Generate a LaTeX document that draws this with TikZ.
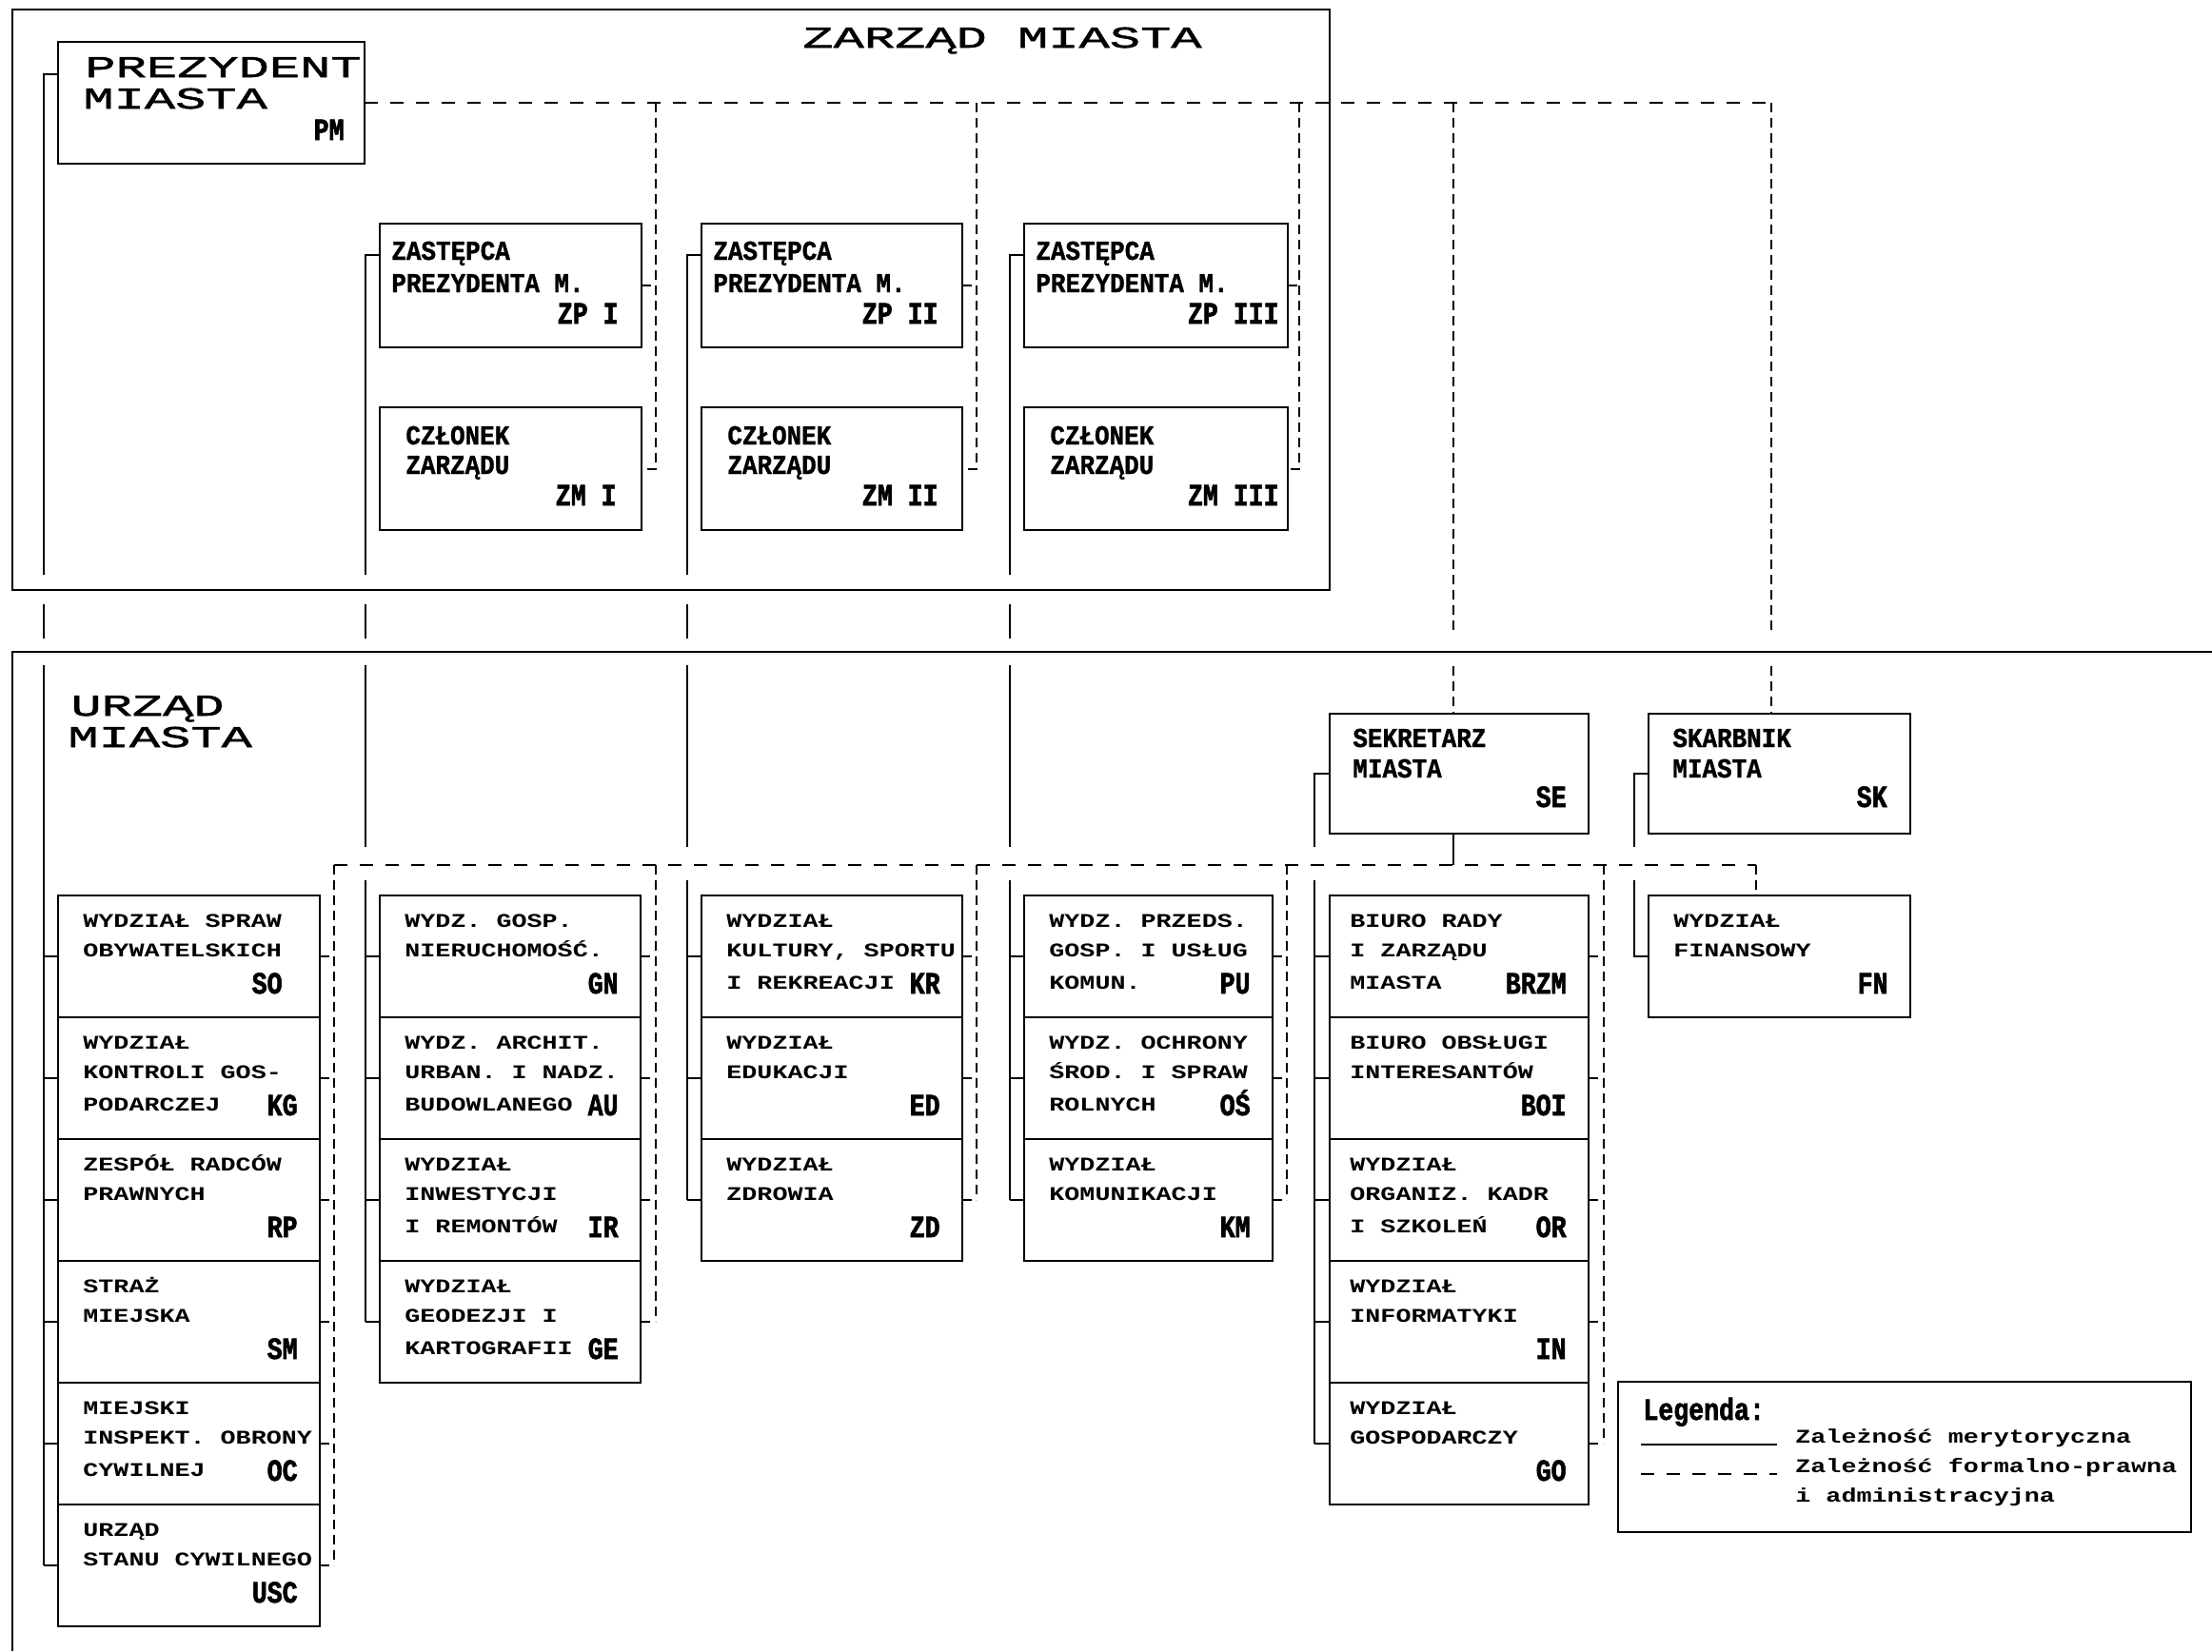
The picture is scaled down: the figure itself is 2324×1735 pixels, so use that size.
\documentclass[tikz,border=0pt]{standalone}
\usepackage{fontspec}
\usetikzlibrary{calc}
\newfontfamily\ttlfont{Liberation Mono}[FakeStretch=1.69,FakeBold=1.6]
\newfontfamily\depfont{Liberation Mono}[FakeStretch=1.31]
\newfontfamily\labfont{Liberation Mono}[FakeStretch=0.9,FakeBold=1.2]
\newfontfamily\codefont{Liberation Mono}[FakeStretch=0.82,FakeBold=1.8]
\tikzset{
  box/.style={draw, line width=1.2pt, inner sep=0pt, outer sep=0pt, anchor=north west},
  dtxt/.style={anchor=base west, inner sep=0pt, font=\depfont\bfseries\fontsize{10.2pt}{12pt}\selectfont},
  dcode/.style={anchor=base east, inner sep=0pt, font=\codefont\bfseries\fontsize{16.2pt}{19pt}\selectfont},
  ltxt/.style={anchor=base west, inner sep=0pt, font=\labfont\bfseries\fontsize{14.4pt}{17pt}\selectfont},
  ttl/.style={anchor=base west, inner sep=0pt, font=\ttlfont\fontsize{15.9pt}{19pt}\selectfont},
  sol/.style={line width=1pt},
  vdsh/.style={line width=1pt, dash pattern=on 5pt off 3pt},
  hdsh/.style={line width=1pt, dash pattern=on 7pt off 6.5pt},
  frame/.style={line width=1.4pt},
  gapline/.style={white, line width=4pt},
}
\newcommand\deptbox[8]{%
  \node[box, minimum width=#4, minimum height=64pt] (#1) at (#2,#3) {};
  \node[dtxt] (#1-a) at ($(#1.north west)+(\dins,33)$) {#5};
  \node[dtxt] (#1-b) at ($(#1.north west)+(\dins,64)$) {#6};
  \if\relax\detokenize{#7}\relax\else
  \node[dtxt] (#1-c) at ($(#1.north west)+(\dins,98)$) {#7};\fi
  \node[dcode] (#1-k) at ($(#1.north east)+(-\dcoff,103)$) {#8};
}
\newcommand\topbox[9]{%
  \node[box, minimum width=#4, minimum height=#5] (#1) at (#2,#3) {};
  \node[ltxt] (#1-a) at ($(#1.north west)+(#6,\la)$) {#7};
  \node[ltxt] (#1-b) at ($(#1.north west)+(#6,\lb)$) {#8};
  \node[dcode] (#1-k) at ($(#1.north east)+(-\tcoff,\lc)$) {#9};
}
\newcommand\gapA[1]{\draw[gapline] (#1,604)--(#1,635) (#1,671)--(#1,699);}
\newcommand\gapB[1]{\draw[gapline] (#1,890)--(#1,925);}
\begin{document}
\begin{tikzpicture}[x=0.5pt,y=-0.5pt]
\useasboundingbox (0,0) rectangle (2324,1735);

% ---------- titles
\node[ttl] (tzm) at (843,50) {ZARZĄD MIASTA};
\node[ttl] (tum1) at (74,752) {URZĄD};
\node[ttl] (tum2) at (71,785) {MIASTA};

% ---------- president
\node[box, minimum width=161pt, minimum height=64pt] (pm) at (61,44) {};
\node[ttl] (pm-a) at (89,81) {PREZYDENT};
\node[ttl] (pm-b) at (87,114) {MIASTA};
\node[dcode] (pm-k) at (362,147) {PM};

% ---------- deputies and members
\def\la{38}\def\lb{72}\def\lc{105}
\def\tcoff{24}\topbox{zp1}{399}{235}{137.5pt}{65pt}{12}{ZASTĘPCA}{PREZYDENTA M.}{ZP I}
\def\tcoff{25}\topbox{zp2}{737}{235}{137pt}{65pt}{12}{ZASTĘPCA}{PREZYDENTA M.}{ZP II}
\def\tcoff{9}\topbox{zp3}{1076}{235}{138.5pt}{65pt}{12}{ZASTĘPCA}{PREZYDENTA M.}{ZP III}
\def\la{39}\def\lb{70}\def\lc{103}
\def\tcoff{26}\topbox{zm1}{399}{428}{137.5pt}{64.5pt}{27}{CZŁONEK}{ZARZĄDU}{ZM I}
\def\tcoff{25}\topbox{zm2}{737}{428}{137pt}{64.5pt}{27}{CZŁONEK}{ZARZĄDU}{ZM II}
\def\tcoff{9}\topbox{zm3}{1076}{428}{138.5pt}{64.5pt}{27}{CZŁONEK}{ZARZĄDU}{ZM III}
\def\la{35}\def\lb{67}\def\lc{98}
\def\tcoff{23}\topbox{se}{1397}{750}{136pt}{63pt}{24}{SEKRETARZ}{MIASTA}{SE}
\def\tcoff{24}\topbox{sk}{1732}{750}{137.5pt}{63pt}{25}{SKARBNIK}{MIASTA}{SK}

% ---------- departments
\def\dins{26}
\def\dcoff{39}\deptbox{dso}{61}{941}{137.5pt}{WYDZIAŁ SPRAW}{OBYWATELSKICH}{}{SO}
\def\dcoff{23}
\deptbox{dkg}{61}{1069}{137.5pt}{WYDZIAŁ}{KONTROLI GOS-}{PODARCZEJ}{KG}
\deptbox{drp}{61}{1197}{137.5pt}{ZESPÓŁ RADCÓW}{PRAWNYCH}{}{RP}
\deptbox{dsm}{61}{1325}{137.5pt}{STRAŻ}{MIEJSKA}{}{SM}
\deptbox{doc}{61}{1453}{137.5pt}{MIEJSKI}{INSPEKT. OBRONY}{CYWILNEJ}{OC}
\deptbox{dusc}{61}{1581}{137.5pt}{URZĄD}{STANU CYWILNEGO}{}{USC}

\deptbox{dgn}{399}{941}{137pt}{WYDZ. GOSP.}{NIERUCHOMOŚĆ.}{}{GN}
\deptbox{dau}{399}{1069}{137pt}{WYDZ. ARCHIT.}{URBAN. I NADZ.}{BUDOWLANEGO}{AU}
\deptbox{dir}{399}{1197}{137pt}{WYDZIAŁ}{INWESTYCJI}{I REMONTÓW}{IR}
\deptbox{dge}{399}{1325}{137pt}{WYDZIAŁ}{GEODEZJI I}{KARTOGRAFII}{GE}

\deptbox{dkr}{737}{941}{137pt}{WYDZIAŁ}{KULTURY, SPORTU}{I REKREACJI}{KR}
\deptbox{ded}{737}{1069}{137pt}{WYDZIAŁ}{EDUKACJI}{}{ED}
\deptbox{dzd}{737}{1197}{137pt}{WYDZIAŁ}{ZDROWIA}{}{ZD}

\deptbox{dpu}{1076}{941}{130.5pt}{WYDZ. PRZEDS.}{GOSP. I USŁUG}{KOMUN.}{PU}
\deptbox{dos}{1076}{1069}{130.5pt}{WYDZ. OCHRONY}{ŚROD. I SPRAW}{ROLNYCH}{OŚ}
\deptbox{dkm}{1076}{1197}{130.5pt}{WYDZIAŁ}{KOMUNIKACJI}{}{KM}

\def\dins{21}
\deptbox{dbrzm}{1397}{941}{136pt}{BIURO RADY}{I ZARZĄDU}{MIASTA}{BRZM}
\deptbox{dboi}{1397}{1069}{136pt}{BIURO OBSŁUGI}{INTERESANTÓW}{}{BOI}
\deptbox{dorg}{1397}{1197}{136pt}{WYDZIAŁ}{ORGANIZ. KADR}{I SZKOLEŃ}{OR}
\deptbox{dinf}{1397}{1325}{136pt}{WYDZIAŁ}{INFORMATYKI}{}{IN}
\deptbox{dgo}{1397}{1453}{136pt}{WYDZIAŁ}{GOSPODARCZY}{}{GO}

\def\dins{26}
\deptbox{dfn}{1732}{941}{137.5pt}{WYDZIAŁ}{FINANSOWY}{}{FN}

% ---------- solid (merytoryczna) lines
\coordinate (pmJ) at (46,78);
\draw[sol] (pmJ -| pm.west) -- (pmJ) -- (pmJ |- dusc.west);
\foreach \n in {dso,dkg,drp,dsm,doc,dusc} \draw[sol] (\n.west) -- (\n.west -| pmJ);

\coordinate (z1J) at (384,268);
\draw[sol] (z1J -| zp1.west) -- (z1J) -- (z1J |- dge.west);
\foreach \n in {dgn,dau,dir,dge} \draw[sol] (\n.west) -- (\n.west -| z1J);

\coordinate (z2J) at (722,268);
\draw[sol] (z2J -| zp2.west) -- (z2J) -- (z2J |- dzd.west);
\foreach \n in {dkr,ded,dzd} \draw[sol] (\n.west) -- (\n.west -| z2J);

\coordinate (z3J) at (1061,268);
\draw[sol] (z3J -| zp3.west) -- (z3J) -- (z3J |- dkm.west);
\foreach \n in {dpu,dos,dkm} \draw[sol] (\n.west) -- (\n.west -| z3J);

\coordinate (seJ) at (1381,813);
\draw[sol] (se.west) -- (se.west -| seJ) -- (seJ |- dgo.west);
\foreach \n in {dbrzm,dboi,dorg,dinf,dgo} \draw[sol] (\n.west) -- (\n.west -| seJ);

\coordinate (skJ) at (1717,813);
\draw[sol] (sk.west) -- (sk.west -| skJ) -- (skJ |- dfn.west) -- (dfn.west);

% ---------- dashed lines from the president
\coordinate (tR) at (1861,108);
\coordinate (t1) at (689,108);
\coordinate (t2) at (1026,108);
\coordinate (t3) at (1365,108);
\coordinate (t4) at (1527,108);
\draw[hdsh] (pm.east) -- (tR);
\draw[vdsh] (tR) -- (tR |- sk.north);
\draw[vdsh] (t4) -- (t4 |- se.north);
\draw[vdsh] (t1) -- (t1 |- zm1.east) -- (zm1.east);
\draw[vdsh] (zp1.east) -- (zp1.east -| t1);
\draw[vdsh] (t2) -- (t2 |- zm2.east) -- (zm2.east);
\draw[vdsh] (zp2.east) -- (zp2.east -| t2);
\draw[vdsh] (t3) -- (t3 |- zm3.east) -- (zm3.east);
\draw[vdsh] (zp3.east) -- (zp3.east -| t3);

% ---------- gaps where lines cross the frames and the dashed bus
\gapA{46}\gapA{384}\gapA{722}\gapA{1061}
\gapB{384}\gapB{722}\gapB{1061}\gapB{1381}\gapB{1717}
\draw[gapline] (1527,662)--(1527,697) (1861,662)--(1861,697);

% ---------- frames
\draw[frame] (13,10) rectangle (1397,620);
\draw[frame] (2324,685) -- (13,685) -- (13,1735);

% ---------- dashed (formalno-prawna) bus from the secretary
\coordinate (bJ) at (1527,909);
\coordinate (bL) at (351,909);
\coordinate (b2) at (689,909);
\coordinate (b3) at (1026,909);
\coordinate (b4) at (1352,909);
\coordinate (b5) at (1685,909);
\coordinate (bR) at (1845,909);
\draw[sol] (se.south -| bJ) -- (bJ);
\draw[hdsh] (bL) -- (bR);
\draw[vdsh] (bR) -- (bR |- dfn.north);
\draw[vdsh] (bL) -- (bL |- dusc.east);
\foreach \n in {dso,dkg,drp,dsm,doc,dusc} \draw[vdsh] (\n.east) -- (\n.east -| bL);
\draw[vdsh] (b2) -- (b2 |- dge.east);
\foreach \n in {dgn,dau,dir,dge} \draw[vdsh] (\n.east) -- (\n.east -| b2);
\draw[vdsh] (b3) -- (b3 |- dzd.east);
\foreach \n in {dkr,ded,dzd} \draw[vdsh] (\n.east) -- (\n.east -| b3);
\draw[vdsh] (b4) -- (b4 |- dkm.east);
\foreach \n in {dpu,dos,dkm} \draw[vdsh] (\n.east) -- (\n.east -| b4);
\draw[vdsh] (b5) -- (b5 |- dgo.east);
\foreach \n in {dbrzm,dboi,dorg,dinf,dgo} \draw[vdsh] (\n.east) -- (\n.east -| b5);

% ---------- legend
\node[box, line width=1pt, minimum width=301pt, minimum height=79pt] (leg) at (1700,1452) {};
\node[dcode, anchor=base west] (leg-t) at ($(leg.north west)+(26,40)$) {Legenda:};
\coordinate (ls1) at (1724,1518); \coordinate (ls2) at (1867,1518);
\coordinate (ld1) at (1724,1549); \coordinate (ld2) at (1867,1549);
\draw[sol] (ls1) -- (ls2);
\draw[hdsh] (ld1) -- (ld2);
\node[dtxt] (leg-a) at (1886,1516) {Zależność merytoryczna};
\node[dtxt] (leg-b) at (1886,1547) {Zależność formalno-prawna};
\node[dtxt] (leg-c) at (1886,1578) {i administracyjna};
\end{tikzpicture}
\end{document}
